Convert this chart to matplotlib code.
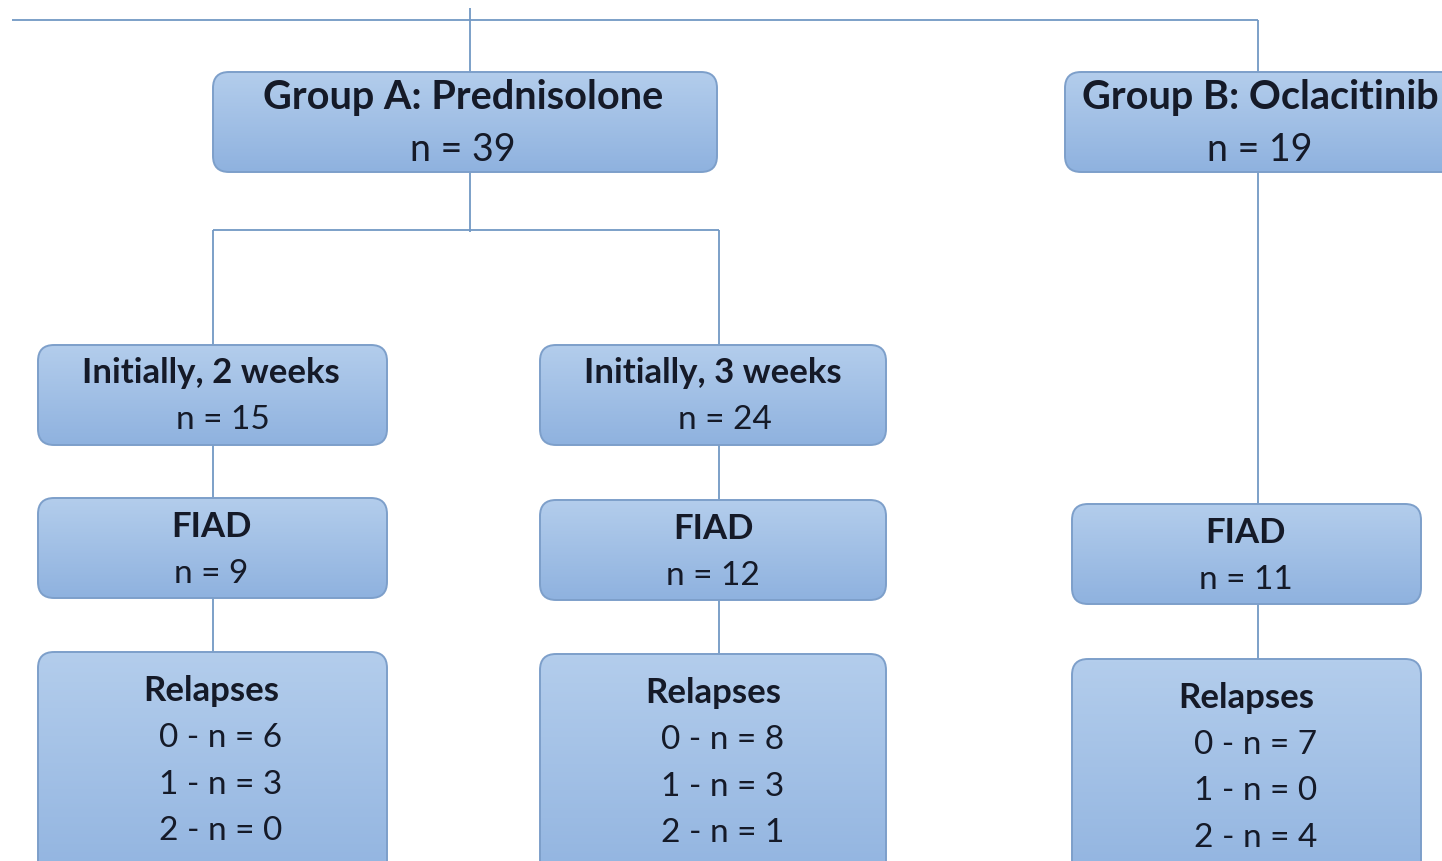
import matplotlib
matplotlib.use("Agg")
import matplotlib.pyplot as plt
from matplotlib.patches import FancyBboxPatch
import numpy as np

plt.rcParams['font.family'] = ['Lato', 'DejaVu Sans']

# ---- data ----
group_titles = ["Group A: Prednisolone", "Group B: Oclacitinib"]
group_n = [39, 19]
subgroup_titles = ["Initially, 2 weeks", "Initially, 3 weeks"]
subgroup_n = [15, 24]
fiad_n = [9, 12, 11]
relapse_counts = [[6, 3, 0], [8, 3, 1], [7, 0, 4]]
relapse_levels = [0, 1, 2]

W, H = 1442, 861
fig = plt.figure(figsize=(W / 100, H / 100), dpi=100)
ax = fig.add_axes([0, 0, 1, 1])
ax.set_xlim(0, W)
ax.set_ylim(H, 0)
ax.axis('off')

LINE = '#7298c4'
EDGE = '#7d9fca'
TXT = '#151a28'
grad = np.linspace(0, 1, 64).reshape(-1, 1)
cmap = matplotlib.colors.LinearSegmentedColormap.from_list('g', ['#b3cdec', '#8fb2df'])


def box(x0, y0, x1, y1):
    p = FancyBboxPatch((x0, y0), x1 - x0, y1 - y0,
                       boxstyle="round,pad=0,rounding_size=16",
                       facecolor='none', edgecolor=EDGE, lw=1.4, zorder=3)
    ax.add_patch(p)
    im = ax.imshow(grad, extent=(x0, x1, y1, y0), cmap=cmap, aspect='auto',
                   zorder=2, interpolation='bilinear')
    im.set_clip_path(p)


def line(xs, ys):
    ax.plot(xs, ys, color=LINE, lw=1.3, zorder=1, solid_capstyle='butt')


def txt(x, y, s, bold=False, size=24):
    ax.text(x, y, s, ha='center', va='center', fontsize=size, color=TXT,
            fontweight='bold' if bold else 'normal', zorder=4)


# connectors
line([12, 1258], [20, 20])
line([470, 470], [8, 72])
line([1258, 1258], [20, 72])
line([470, 470], [172, 232])
line([213, 719], [230, 230])
line([213, 213], [230, 345])
line([719, 719], [230, 345])
line([213, 213], [445, 498])
line([213, 213], [598, 652])
line([719, 719], [445, 500])
line([719, 719], [600, 654])
line([1258, 1258], [172, 504])
line([1258, 1258], [604, 659])

# group boxes
gboxes = [(213, 72, 717, 172), (1065, 72, 1470, 172)]
gcx = [463, 1260]
for (b, t, n, cx) in zip(gboxes, group_titles, group_n, gcx):
    box(*b)
    txt(cx, 98, t, bold=True, size=28.5)
    txt(cx, 150, f"n = {n}", size=27)

# subgroup boxes
sboxes = [(38, 345, 387, 445), (540, 345, 886, 445)]
scx = [211, 713]
for (b, t, n, cx) in zip(sboxes, subgroup_titles, subgroup_n, scx):
    box(*b)
    txt(cx, 373, t, bold=True, size=25)
    txt(cx + 12, 420, f"n = {n}", size=24)

# FIAD boxes
fboxes = [(38, 498, 387, 598), (540, 500, 886, 600), (1072, 504, 1421, 604)]
fcx = [211, 713, 1246]
for (b, n, cx) in zip(fboxes, fiad_n, fcx):
    box(*b)
    y0 = b[1]
    txt(cx, y0 + 29, "FIAD", bold=True, size=25)
    txt(cx, y0 + 76, f"n = {n}", size=24)

# relapse boxes
rboxes = [(38, 652, 387, 900), (540, 654, 886, 900), (1072, 659, 1421, 900)]
for (b, counts, cx) in zip(rboxes, relapse_counts, fcx):
    box(*b)
    y0 = b[1]
    txt(cx, y0 + 39, "Relapses", bold=True, size=25)
    for i, (lv, c) in enumerate(zip(relapse_levels, counts)):
        txt(cx + 10, y0 + 86 + i * 46.5, f"{lv} - n = {c}", size=24)

fig.savefig("out.png", dpi=100, facecolor='white')
